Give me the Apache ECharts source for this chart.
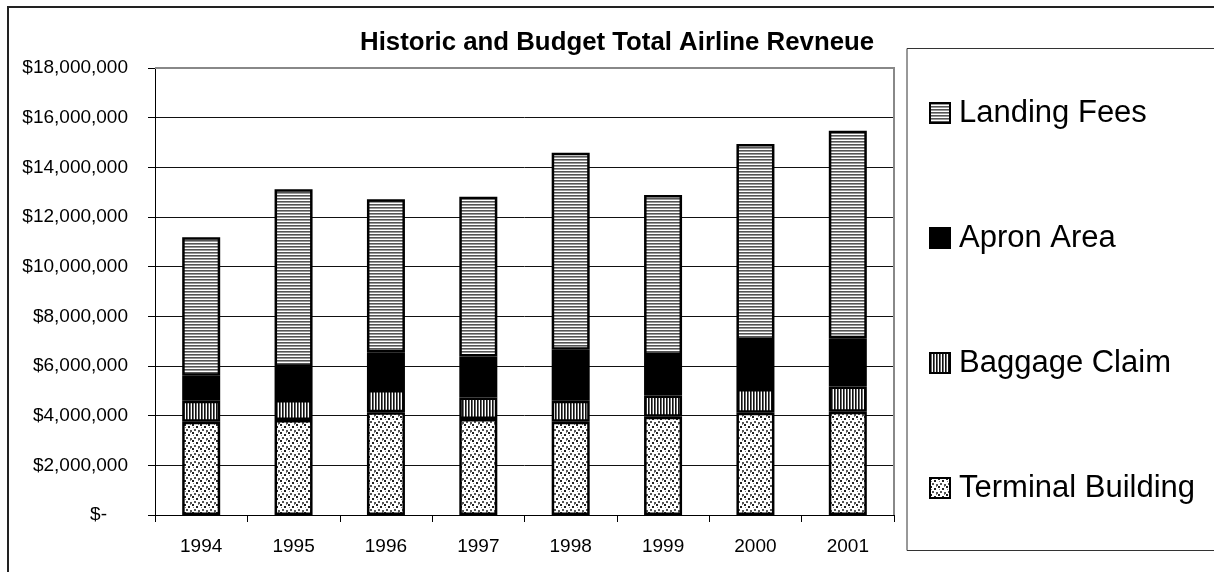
<!DOCTYPE html>
<html>
<head>
<meta charset="utf-8">
<script src="https://cdn.jsdelivr.net/npm/echarts@6/dist/echarts.min.js"></script>
<style>
  html, body { margin: 0; padding: 0; background: #fff; }
  #chart { width: 1214px; height: 572px; }
</style>
</head>
<body>
<div id="chart"></div>
<script>
// Revenue by year, in dollars, stacked bottom to top
const years = ['1994', '1995', '1996', '1997', '1998', '1999', '2000', '2001'];
const terminalBuilding = [3760000, 3830000, 4140000, 3870000, 3760000, 3960000, 4120000, 4160000];
const baggageClaim     = [840000, 800000, 890000, 860000, 840000, 850000, 950000, 1010000];
const apronArea        = [1010000, 1340000, 1520000, 1650000, 2050000, 1630000, 1980000, 1950000];
const landingFees      = [5570000, 7150000, 6160000, 6440000, 7940000, 6450000, 7890000, 8350000];

const yMin = 0, yMax = 18000000, yStep = 2000000;
const FONT = "'Liberation Sans', Arial, sans-serif";

// Small canvas tiles used as repeating fill patterns
function tile(w, h, draw) {
  const c = document.createElement('canvas');
  c.width = w; c.height = h;
  const ctx = c.getContext('2d');
  ctx.fillStyle = '#fff';
  ctx.fillRect(0, 0, w, h);
  draw(ctx);
  return { image: c, repeat: 'repeat' };
}
const horizStripes = tile(4, 3, ctx => {
  ctx.fillStyle = '#555'; ctx.fillRect(0, 0, 4, 1);
  ctx.fillStyle = '#999'; ctx.fillRect(0, 1, 4, 1);
});
const vertStripes = tile(3, 4, ctx => {
  ctx.fillStyle = '#111'; ctx.fillRect(0, 0, 1, 4);
  ctx.fillStyle = '#6a6a6a'; ctx.fillRect(1, 0, 1, 4);
});
const dots = tile(8, 8, ctx => {
  ctx.fillStyle = '#222';
  ctx.fillRect(0, 0, 2, 2); ctx.fillRect(4, 2, 2, 2);
  ctx.fillStyle = '#555';
  ctx.fillRect(2, 5, 2, 2); ctx.fillRect(6, 6, 2, 2);
  ctx.fillStyle = '#888';
  ctx.fillRect(6, 0, 1, 1); ctx.fillRect(1, 3, 1, 1);
});

function barSeries(name, data, fill) {
  return {
    name, type: 'bar', stack: 'total', data,
    barWidth: 38,
    itemStyle: { color: fill, borderColor: '#000', borderWidth: 2.5 },
    emphasis: { disabled: true }
  };
}

function legendAt(name, centerY) {
  return {
    data: [name], left: 929, top: centerY - 15,
    padding: 0,
    icon: 'rect',
    itemWidth: 20, itemHeight: 20, itemGap: 0,
    selectedMode: false,
    itemStyle: { borderColor: '#000', borderWidth: 2 },
    textStyle: { fontFamily: FONT, fontSize: 31, color: '#000', lineHeight: 32, padding: [0, 0, 0, 4] }
  };
}

const moneyFmt = v => v === 0 ? '{dash|$-}' : '$' + v.toLocaleString('en-US');

const chart = echarts.init(document.getElementById('chart'));
chart.setOption({
  animation: false,
  backgroundColor: '#fff',
  title: {
    text: 'Historic and Budget Total Airline Revneue',
    left: 355, top: 25,
    textStyle: { fontFamily: FONT, fontSize: 25.8, fontWeight: 'bold', color: '#000' }
  },
  legend: [
    legendAt('Landing Fees', 112),
    legendAt('Apron Area', 237),
    legendAt('Baggage Claim', 362),
    legendAt('Terminal Building', 487)
  ],
  grid: { left: 155, right: 320, top: 68, bottom: 57, containLabel: false },
  xAxis: {
    type: 'category', data: years,
    axisLine: { lineStyle: { color: '#000', width: 1 } },
    axisTick: { show: true, alignWithLabel: false, length: 7, lineStyle: { color: '#000' } },
    axisLabel: { fontFamily: FONT, fontSize: 19, color: '#000', margin: 22 },
    splitLine: { show: false }
  },
  yAxis: {
    type: 'value', min: yMin, max: yMax, interval: yStep,
    axisLine: { show: true, lineStyle: { color: '#000', width: 1 } },
    axisTick: { show: true, length: 7, lineStyle: { color: '#000' } },
    axisLabel: {
      fontFamily: FONT, fontSize: 19, color: '#000', margin: 27,
      formatter: moneyFmt,
      rich: { dash: { fontFamily: FONT, fontSize: 19, color: '#000', padding: [0, 21, 0, 0] } }
    },
    splitLine: { show: true, lineStyle: { color: '#111', width: 1 } }
  },
  series: [
    barSeries('Terminal Building', terminalBuilding, dots),
    barSeries('Baggage Claim', baggageClaim, vertStripes),
    barSeries('Apron Area', apronArea, '#000'),
    barSeries('Landing Fees', landingFees, horizStripes)
  ],
  graphic: [
    // outer chart frame
    { type: 'rect', z: 0, silent: true,
      shape: { x: 8, y: 7, width: 1220, height: 580 },
      style: { fill: null, stroke: '#222', lineWidth: 2 } },
    // legend box
    { type: 'rect', z: 0, silent: true,
      shape: { x: 907, y: 48.5, width: 320, height: 502 },
      style: { fill: null, stroke: '#333', lineWidth: 1 } },
    // plot area frame, top and right edges
    { type: 'polyline', z: 50, silent: true,
      shape: { points: [[155, 68], [894, 68], [894, 515]] },
      style: { fill: null, stroke: '#888', lineWidth: 2 } }
  ]
});
</script>
</body>
</html>
